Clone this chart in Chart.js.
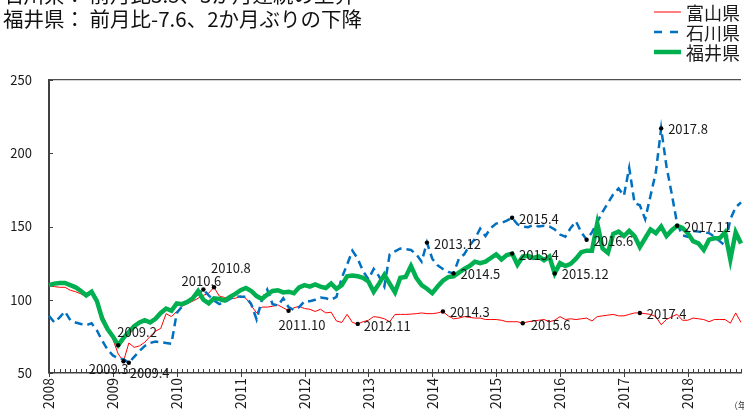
<!DOCTYPE html>
<html lang="ja">
<head>
<meta charset="utf-8">
<script src="https://cdn.jsdelivr.net/npm/chart.js@4.4.1/dist/chart.umd.min.js"></script>
<style>
  html, body { margin: 0; padding: 0; background: #fff; }
  #wrap { width: 744px; height: 414px; }
</style>
</head>
<body>
<div id="wrap"><canvas id="graph" width="744" height="414"></canvas></div>
<script>
// monthly index, 2008.1 - 2018.11
const START_YEAR = 2008;
const MONTH_COUNT = 131;
const yearLabels = ["2008", "2009", "2010", "2011", "2012", "2013", "2014", "2015", "2016", "2017", "2018"];
const seriesNames = ["富山県", "石川県", "福井県"];

const toyama = [
  109.5, 109, 108.5, 108.5, 106.5, 105.5, 104, 102, 104, 97, 90, 82,
  73, 63, 58, 70.5, 67.5, 68.5, 71, 75, 78.5, 80.5, 90.5, 88.5,
  92, 95.5, 97.5, 99, 101, 103, 104.5, 108.5, 102.5, 101.5, 101, 101,
  102.5, 101, 96, 91, 95, 95, 95.5, 96.5, 94.5, 92.5, 94.5, 95.5,
  94, 93.5, 92, 93.5, 91, 91.5, 85.5, 84.5, 90, 84.5, 83.5, 85,
  86, 88.5, 88, 87, 85, 90, 90, 90, 90.2, 90.5, 91, 90.5,
  90.5, 91, 92, 89, 87, 87.5, 88.5, 88, 87.5, 87.5, 86.5, 86.5,
  86.5, 86, 85, 85, 85, 84, 85, 85.5, 86, 86.5, 85, 86,
  88.5, 86.5, 87, 86.5, 87, 87.5, 85.5, 88.5, 89, 89.5, 90, 89,
  89, 90, 91, 91, 90.5, 90, 88.5, 83, 86.5, 88.5, 90, 86,
  86, 87.5, 87, 86.5, 85, 86.5, 86.5, 86.5, 84, 91, 84.5
];
const ishikawa = [
  89, 84.5, 88, 92, 86, 84.5, 83.5, 82.5, 84, 79, 72, 66,
  62, 60, 59.5, 57, 61, 65, 68.5, 70.5, 71.5, 71, 70.5, 70,
  91, 95.5, 98.5, 100.5, 104, 107, 103, 99.5, 97, 98.5, 100.5, 102.5,
  102, 102, 97, 86.5, 100, 107, 97, 96, 101, 95, 93, 95,
  99, 99, 100, 101.5, 101, 100, 102, 115, 124, 133.5, 128, 119.5,
  114, 121, 116, 109, 131, 133, 135, 134.5, 134, 131, 126, 139,
  128, 123.5, 121, 119, 118, 128, 131, 137, 141.5, 148.5, 143.5, 149,
  152, 152.5, 154, 156, 151.5, 150, 149.5, 151, 150, 150.5, 150, 148,
  144.5, 143, 149, 153.5, 146, 141, 146, 153, 160, 166, 172, 176,
  171, 190, 166, 164.5, 155, 171, 187, 217, 191, 172, 152, 144,
  143, 147, 146.5, 146, 145.5, 143, 140, 137, 155, 163, 166.5
];
const fukui = [
  110, 111, 111.5, 111.5, 110, 108.5, 106, 103, 105.5, 99, 87, 80,
  75, 69, 74, 78, 82, 84.5, 86, 84.5, 87, 91, 94, 92.5,
  97.5, 97, 98.5, 101, 106, 100, 97.5, 101, 100.5, 99.5, 102, 104,
  106.5, 108, 106, 102.5, 100.5, 103.5, 106, 106.5, 105, 105.5, 104.5, 108.5,
  110, 109, 110.5, 109, 108, 111, 107.5, 110, 116, 116.5, 116, 115,
  112.5, 105.5, 111, 117, 111, 105, 115, 115.5, 123, 115, 110, 107.5,
  104.5, 109, 113, 115.5, 116, 118.5, 121, 123, 126, 125, 126, 128.5,
  131, 127.5, 130.5, 131.5, 124, 129.5, 130, 128.5, 129.5, 127, 129.5, 118,
  125, 123, 124.5, 128, 132.5, 133.5, 133.5, 152, 135, 132, 145, 146.5,
  143.5, 147, 143.5, 136, 142, 148, 145.5, 150, 143.5, 147.5, 150.5, 149,
  145.5, 140, 138.5, 134, 141, 142, 142, 146, 127.5, 146, 138.4
];

// months picked out with a dot and a label
const marks = [
  ["fukui", "2009.2"], ["toyama", "2009.3"], ["ishikawa", "2009.4"],
  ["ishikawa", "2010.6"], ["toyama", "2010.8"], ["toyama", "2011.10"],
  ["toyama", "2012.11"], ["ishikawa", "2013.12"], ["toyama", "2014.3"],
  ["ishikawa", "2014.5"], ["ishikawa", "2015.4"], ["fukui", "2015.4"],
  ["toyama", "2015.6"], ["fukui", "2015.12"], ["ishikawa", "2016.6"],
  ["toyama", "2017.4"], ["ishikawa", "2017.8"], ["fukui", "2017.11"]
];

const headline = [
  "石川県： 前月比3.5、3か月連続の上昇",
  "福井県： 前月比-7.6、2か月ぶりの下降"
];

const months = [];
for (let i = 0; i < MONTH_COUNT; i++) {
  months.push((START_YEAR + Math.floor(i / 12)) + "." + (i % 12 + 1));
}

// label offsets from the dot (default: right of it)
const markPlace = {
  "fukui 2009.2": { dx: -1, dy: -13, align: "left" },
  "toyama 2009.3": { dx: 5, dy: 8, align: "right" },
  "ishikawa 2009.4": { dx: 1, dy: 10, align: "left" },
  "ishikawa 2010.6": { dx: -2, dy: -8, align: "center" },
  "toyama 2010.8": { dx: -3, dy: -19, align: "left" },
  "toyama 2011.10": { dx: -10, dy: 14, align: "left" },
  "toyama 2012.11": { dx: 6, dy: 2, align: "left" },
  "toyama 2015.6": { dx: 8, dy: 2, align: "left" }
};

const FONT = "'Noto Sans CJK JP', 'Noto Sans', sans-serif";
const seriesIndex = { toyama: 0, ishikawa: 1, fukui: 2 };

const decorations = {
  id: "decorations",
  afterDraw(chart) {
    const { ctx, chartArea } = chart;
    const xs = chart.scales.x, ys = chart.scales.y;
    ctx.save();

    // small ticks along the axes, pointing inward
    ctx.strokeStyle = "#404040";
    ctx.lineWidth = 1;
    ctx.beginPath();
    for (let i = 0; i < MONTH_COUNT; i++) {
      const x = Math.round(xs.getPixelForValue(i)) + 0.5;
      const yearStart = i % 12 === 0;
      ctx.moveTo(x, chartArea.bottom - 4);
      ctx.lineTo(x, chartArea.bottom + (yearStart ? 4 : 0));
    }
    ys.ticks.forEach(t => {
      const y = Math.round(ys.getPixelForValue(t.value)) + 0.5;
      ctx.moveTo(chartArea.left, y);
      ctx.lineTo(chartArea.left + 4, y);
    });
    ctx.stroke();

    // marked months
    ctx.font = "13px " + FONT;
    ctx.textBaseline = "middle";
    marks.forEach(([key, label]) => {
      const idx = months.indexOf(label);
      const pt = chart.getDatasetMeta(seriesIndex[key]).data[idx];
      ctx.fillStyle = "#000";
      ctx.beginPath();
      ctx.arc(pt.x, pt.y, 2.2, 0, Math.PI * 2);
      ctx.fill();
      const p = markPlace[key + " " + label] || { dx: 7, dy: 1, align: "left" };
      ctx.fillStyle = "#1a1a1a";
      ctx.textAlign = p.align;
      ctx.fillText(label, pt.x + p.dx, pt.y + p.dy);
    });

    // legend, top right
    ctx.textAlign = "left";
    ctx.font = "18px " + FONT;
    chart.data.datasets.forEach((ds, k) => {
      const y = 12 + k * 20;
      ctx.strokeStyle = ds.borderColor;
      ctx.lineWidth = ds.borderWidth;
      ctx.setLineDash(ds.borderDash ? [8, 8] : []);
      ctx.beginPath();
      ctx.moveTo(654, y);
      ctx.lineTo(681, y);
      ctx.stroke();
      ctx.setLineDash([]);
      ctx.fillStyle = "#1a1a1a";
      ctx.fillText(ds.label, 686, y + 1);
    });

    // headline
    ctx.font = "20.5px " + FONT;
    ctx.textBaseline = "alphabetic";
    ctx.fillStyle = "#111";
    headline.forEach((line, k) => ctx.fillText(line, 3, 3 + k * 24));

    // unit under the axis
    ctx.font = "9px " + FONT;
    ctx.fillStyle = "#333";
    ctx.fillText("（年）", 729, 409);
    ctx.restore();
  }
};

new Chart(document.getElementById("graph"), {
  type: "line",
  data: {
    labels: months,
    datasets: [
      { label: seriesNames[0], data: toyama, borderColor: "#ff0000", borderWidth: 1, order: 2 },
      { label: seriesNames[1], data: ishikawa, borderColor: "#0070c0", borderWidth: 2.5, borderDash: [8, 5], order: 1 },
      { label: seriesNames[2], data: fukui, borderColor: "#00b050", borderWidth: 4.5, order: 0 }
    ]
  },
  options: {
    responsive: false,
    animation: false,
    layout: { padding: { top: 80, right: 3, left: 0, bottom: 0 } },
    elements: { point: { radius: 0 }, line: { tension: 0 } },
    plugins: { legend: { display: false }, tooltip: { enabled: false } },
    scales: {
      x: {
        type: "category",
        offset: false,
        grid: { display: false, drawTicks: false },
        border: { color: "#404040", width: 1.5 },
        ticks: {
          autoSkip: false,
          maxRotation: 90,
          minRotation: 90,
          padding: 5,
          color: "#1a1a1a",
          font: { family: FONT, size: 14 },
          callback: (v, i) => (i % 12 === 0 ? yearLabels[i / 12] : "")
        },
        afterFit(scale) {
          scale.height = 41;
          scale.paddingLeft = 0;
          scale.paddingRight = 0;
        }
      },
      y: {
        min: 50,
        max: 250,
        ticks: { stepSize: 50, padding: 17, color: "#1a1a1a", font: { family: FONT, size: 13 } },
        grid: {
          drawTicks: false,
          lineWidth: 1.2,
          color: c => (c.tick && c.tick.value === 250 ? "#505050" : "rgba(0,0,0,0)")
        },
        border: { color: "#404040", width: 2 },
        afterFit(scale) { scale.width = 49; }
      }
    }
  },
  plugins: [decorations]
});
</script>
</body>
</html>
